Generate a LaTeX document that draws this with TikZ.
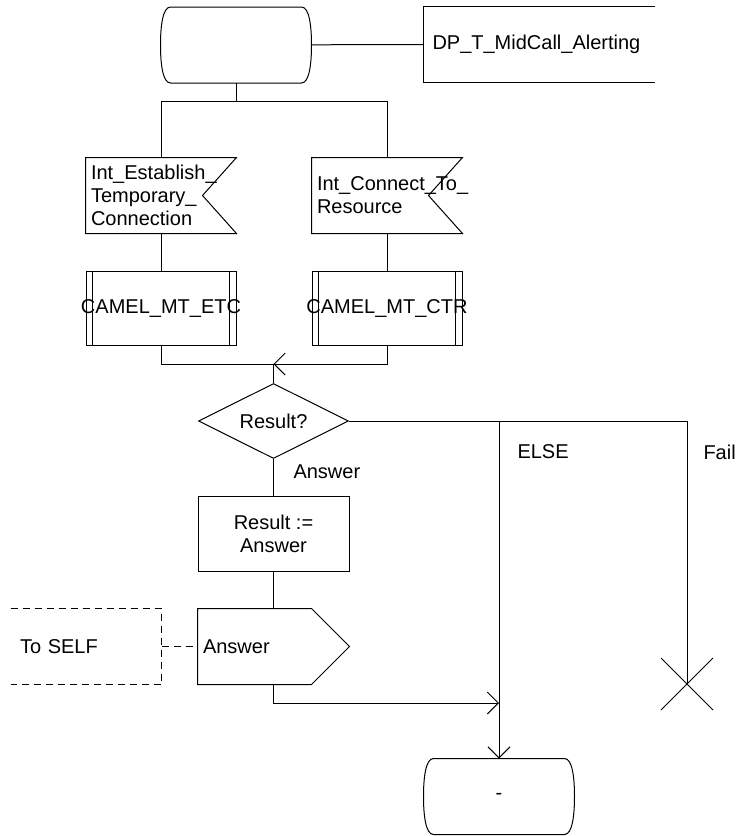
\documentclass[tikz,border=0pt]{standalone}
\usepackage{fontspec}
\setmainfont{Liberation Sans}
\usetikzlibrary{shapes.geometric}
\usetikzlibrary{arrows.meta}

\begin{document}
\begin{tikzpicture}[
        x=0.5pt, y=-0.5pt,
        line width=0.5pt,
        every node/.style={font=\fontsize{10}{11.5}\selectfont},
        >={Straight Barb[length=5.5pt, width=11pt]},
        state box/.style={rectangle, minimum width=75pt, minimum height=37.5pt},
        note box/.style={rectangle, minimum height=37.5pt, inner xsep=4.5pt, align=left},
        input box/.style={rectangle, minimum width=75pt, minimum height=37.5pt, inner xsep=2.5pt, text width=70pt, align=left},
        proc box/.style={draw, rectangle, minimum width=75pt, minimum height=37pt},
        task box/.style={draw, rectangle, minimum width=75.5pt, minimum height=37.5pt, align=center},
        decision box/.style={draw, diamond, aspect=2, inner sep=0pt, minimum width=75pt, minimum height=37.5pt},
        output box/.style={rectangle, minimum width=75.5pt, minimum height=37.5pt, inner xsep=2.5pt, text width=70.5pt, align=left},
        label text/.style={anchor=west, inner sep=0pt},
    ]

    \useasboundingbox (0,0) rectangle (740,836);

    % Start state and its comment
    \node[state box] (start) at (236,45) {};
    \draw ([xshift=5pt]start.north west) -- ([xshift=-5pt]start.north east)
        .. controls ([xshift=-1pt]start.north east) and ([yshift=9pt]start.east) .. (start.east)
        .. controls ([yshift=-9pt]start.east) and ([xshift=-1pt]start.south east) .. ([xshift=-5pt]start.south east)
        -- ([xshift=5pt]start.south west)
        .. controls ([xshift=1pt]start.south west) and ([yshift=-9pt]start.west) .. (start.west)
        .. controls ([yshift=9pt]start.west) and ([xshift=1pt]start.north west) .. ([xshift=5pt]start.north west);
    \node[note box, anchor=west, text width=106.5pt] (dpnote) at (423,44.5) {DP\_T\_MidCall\_Alerting};
    \draw (dpnote.north east) -- (dpnote.north west) -- (dpnote.south west) -- (dpnote.south east);
    \draw (start) -- (dpnote.west);

    % Input signals
    \node[input box] (etcsig) at (161,195.5) {Int\_Establish\_\\Temporary\_\\Connection};
    \node[input box] (ctrsig) at (387,195.5) {Int\_Connect\_To\_\\Resource};
    \draw (etcsig.north west) -- (etcsig.north east) -- ([xshift=-17pt]etcsig.east) -- (etcsig.south east) -- (etcsig.south west) -- cycle;
    \draw (ctrsig.north west) -- (ctrsig.north east) -- ([xshift=-17pt]ctrsig.east) -- (ctrsig.south east) -- (ctrsig.south west) -- cycle;

    % Procedure calls
    \node[proc box, label=center:{CAMEL\_MT\_ETC}] (etcproc) at (161,308) {};
    \node[proc box, label=center:{CAMEL\_MT\_CTR}] (ctrproc) at (387,308) {};
    \draw ([xshift=3.5pt]etcproc.north west) -- ([xshift=3.5pt]etcproc.south west);
    \draw ([xshift=-3.5pt]etcproc.north east) -- ([xshift=-3.5pt]etcproc.south east);
    \draw ([xshift=3.5pt]ctrproc.north west) -- ([xshift=3.5pt]ctrproc.south west);
    \draw ([xshift=-3.5pt]ctrproc.north east) -- ([xshift=-3.5pt]ctrproc.south east);

    % Decision, task and output
    \node[decision box] (decide) at (273.5,421) {Result?};
    \node[task box] (setresult) at (273.5,533.5) {Result :=\\Answer};
    \node[output box] (answersig) at (273.5,646.5) {Answer};
    \draw (answersig.north west) -- ([xshift=-19pt]answersig.north east) -- (answersig.east) -- ([xshift=-19pt]answersig.south east) -- (answersig.south west) -- cycle;
    \node[note box, minimum width=75pt, text width=66pt, inner xsep=3pt] (selfnote) at (86,646.5) {To SELF};
    \draw[dash pattern=on 3.5pt off 2.5pt] (selfnote.north west) -- (selfnote.north east) -- (selfnote.south east) -- (selfnote.south west);
    \draw[dash pattern=on 3.5pt off 2.5pt] (selfnote.east) -- (answersig.west);

    % End state
    \node[state box] (stop) at (499,796.5) {-};
    \draw ([xshift=5pt]stop.north west) -- ([xshift=-5pt]stop.north east)
        .. controls ([xshift=-1pt]stop.north east) and ([yshift=9pt]stop.east) .. (stop.east)
        .. controls ([yshift=-9pt]stop.east) and ([xshift=-1pt]stop.south east) .. ([xshift=-5pt]stop.south east)
        -- ([xshift=5pt]stop.south west)
        .. controls ([xshift=1pt]stop.south west) and ([yshift=-9pt]stop.west) .. (stop.west)
        .. controls ([yshift=9pt]stop.west) and ([xshift=1pt]stop.north west) .. ([xshift=5pt]stop.north west);

    % Branch labels
    \node[label text] (answerlbl) at (293,472) {Answer};
    \node[label text] (elselbl) at (517,452) {ELSE};
    \node[label text] (faillbl) at (703,452) {Fail};

    % Joints
    \coordinate (split) at (236,101);
    \coordinate (merge) at (273.5,364);
    \coordinate (elsesplit) at (499,421);
    \coordinate (failturn) at (687,421);
    \coordinate (failend) at (687,684);
    \coordinate (joinelse) at (499,703);

    % Flow lines
    \draw (start) -- (split);
    \draw (split) -| (etcsig.north);
    \draw (split) -| (ctrsig.north);
    \draw (etcsig) -- (etcproc);
    \draw (ctrsig) -- (ctrproc);
    \draw (etcproc.south) |- (merge);
    \draw[->] (ctrproc.south) |- (merge);
    \draw (merge) -- (decide.north);
    \draw (decide.east) -- (failturn) -- (failend);
    \draw (failend) ++(-26,-26) -- ++(52,52);
    \draw (failend) ++(26,-26) -- ++(-52,52);
    \draw[->] (elsesplit) -- (stop.north);
    \draw (decide.south) -- (setresult.north);
    \draw (setresult.south) -- (answersig.north);
    \draw[->] (answersig.south) |- (joinelse);

\end{tikzpicture}
\end{document}
